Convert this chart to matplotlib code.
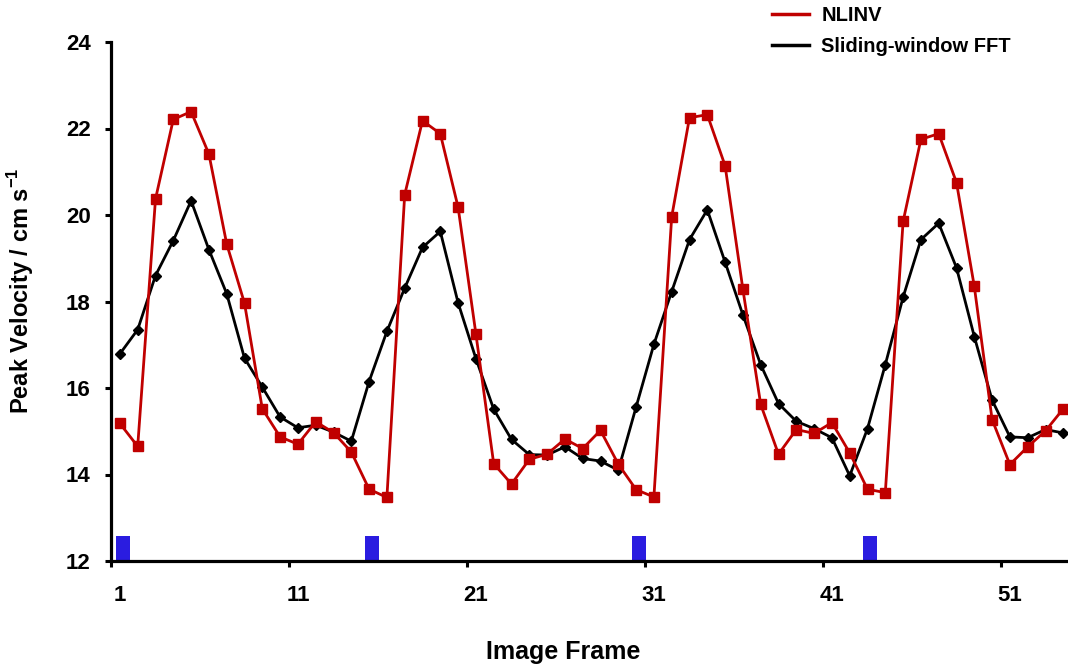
import numpy as np
import matplotlib
matplotlib.use('Agg')
import matplotlib.pyplot as plt
from matplotlib.lines import Line2D

plt.rcParams['font.family'] = ['Liberation Sans', 'DejaVu Sans']
plt.rcParams['font.weight'] = 'bold'
plt.rcParams['mathtext.fontset'] = 'custom'
plt.rcParams['mathtext.rm'] = 'Liberation Sans:bold'
plt.rcParams['mathtext.bf'] = 'Liberation Sans:bold'

# peak velocity per image frame (cm/s)
nlinv = [15.18, 14.65, 20.37, 22.21, 22.39, 21.41, 19.33, 17.96, 15.52, 14.87,
         14.70, 15.22, 14.97, 14.52, 13.66, 13.47, 20.47, 22.18, 21.88, 20.18,
         17.25, 14.25, 13.78, 14.35, 14.47, 14.82, 14.60, 15.02, 14.24, 13.65,
         13.48, 19.96, 22.25, 22.32, 21.14, 18.28, 15.62, 14.47, 15.04, 14.95,
         15.20, 14.50, 13.66, 13.58, 19.85, 21.75, 21.88, 20.75, 18.35, 15.27,
         14.23, 14.64, 15.01, 15.52]
sw_fft = [16.79, 17.35, 18.60, 19.41, 20.33, 19.20, 18.18, 16.69, 16.02, 15.33,
          15.08, 15.14, 14.98, 14.77, 16.15, 17.31, 18.31, 19.25, 19.62, 17.97,
          16.68, 15.51, 14.81, 14.46, 14.45, 14.64, 14.37, 14.31, 14.10, 15.56,
          17.01, 18.23, 19.43, 20.12, 18.91, 17.69, 16.54, 15.64, 15.23, 15.06,
          14.85, 13.97, 15.06, 16.54, 18.10, 19.43, 19.81, 18.78, 17.19, 15.72,
          14.87, 14.85, 15.04, 14.96]
frames = np.arange(1, len(nlinv) + 1)

# trigger markers (blue bars)
trigger_frames = [1, 15, 30, 43]
trigger_top = 12.58

x_labels = [1, 11, 21, 31, 41, 51]
y_ticks = [12, 14, 16, 18, 20, 22, 24]

red = '#C00000'
blue = '#2A1CE0'

fig = plt.figure(figsize=(10.68, 6.66), dpi=100)
ax = fig.add_axes([111/1068, 105/666, 1 - 111/1068, 519/666])

ax.bar(np.array(trigger_frames) + 0.15, [trigger_top - 12] * len(trigger_frames),
       bottom=12, width=0.78, color=blue, zorder=1)
ax.plot(frames, sw_fft, color='black', lw=2.0, marker='D', ms=5.5,
        mfc='black', mec='black', zorder=3, clip_on=False)
ax.plot(frames, nlinv, color=red, lw=2.0, marker='s', ms=7,
        mfc=red, mec=red, zorder=4, clip_on=False)

ax.set_xlim(0.5, 0.5 + 957/17.8)
ax.set_ylim(12, 24)

for s in ['top', 'right']:
    ax.spines[s].set_visible(False)
for s in ['left', 'bottom']:
    ax.spines[s].set_linewidth(2.3)

ax.set_yticks(y_ticks)
ax.set_yticklabels([str(v) for v in y_ticks])
ax.tick_params(axis='y', direction='out', length=4.5, width=2.2, pad=10,
               labelsize=16)

# ticks at category boundaries, labels at category centres
ax.set_xticks(np.arange(0.5, 52, 10))
ax.set_xticklabels([])
ax.tick_params(axis='x', which='major', direction='out', length=4.5, width=2.2)
ax.set_xticks(x_labels, minor=True)
ax.set_xticklabels([str(v) for v in x_labels], minor=True)
ax.tick_params(axis='x', which='minor', length=0, pad=17, labelsize=16)

ax.set_xlabel('Image Frame', fontsize=18, fontweight='bold')
ax.xaxis.set_label_coords((563 - 111) / 957, (561 - 640) / 519)
ax.set_ylabel(r'Peak Velocity / cm s$^{-1}$', fontsize=17, fontweight='bold')
ax.yaxis.set_label_coords((36 - 111) / 957, 0.52)

handles = [Line2D([], [], color=red, lw=2.5),
           Line2D([], [], color='black', lw=2.5)]
fig.legend(handles, ['NLINV', 'Sliding-window FFT'], loc='upper left',
           bbox_to_anchor=(772/1068, 1 - 6/666), frameon=False,
           handlelength=1.85, handletextpad=0.6, labelspacing=0.62,
           borderpad=0, borderaxespad=0, prop={'weight': 'bold', 'size': 14.5})

fig.savefig('out.png', dpi=100)
